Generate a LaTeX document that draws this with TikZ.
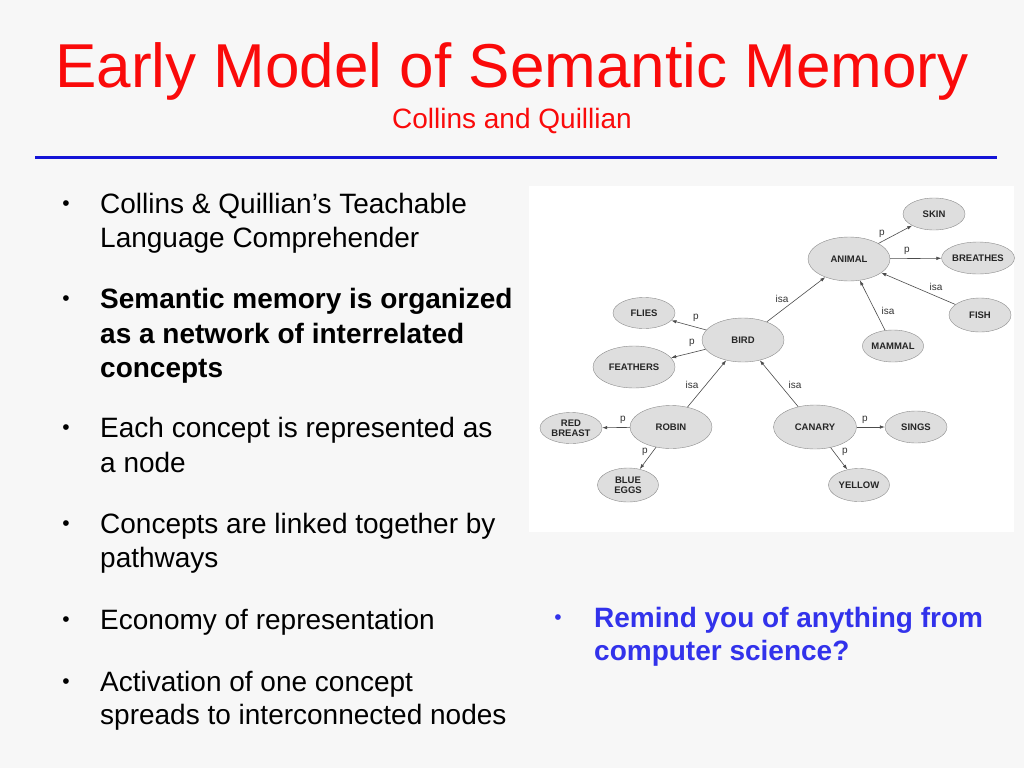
\documentclass[tikz,border=0pt]{standalone}
\usepackage{fontspec}
\setmainfont{Liberation Sans}
\usetikzlibrary{shapes.geometric,arrows.meta}
\definecolor{slidebg}{RGB}{247,247,247}
\definecolor{titlered}{RGB}{250,10,10}
\definecolor{rulblue}{RGB}{20,20,215}
\definecolor{askblue}{RGB}{50,50,235}
\definecolor{ovalfill}{RGB}{222,222,222}
\definecolor{ovaldraw}{RGB}{140,140,140}
\tikzset{
  concept/.style={ellipse,draw=ovaldraw,fill=ovalfill,inner sep=0pt,align=center,
    font=\fontsize{9.5}{10}\selectfont\bfseries,text=black!85},
  bigconcept/.style={concept,minimum width=82pt,minimum height=44pt},
  smallconcept/.style={concept,minimum width=62pt,minimum height=32pt},
  link/.style={-{Latex[length=5pt,width=3.5pt]},draw=black!70,line width=0.6pt},
  rel/.style={font=\fontsize{10}{10}\selectfont,text=black!80,inner sep=0pt},
  bodytext/.style={anchor=base west,inner sep=0pt,font=\fontsize{28}{32}\selectfont},
  dot/.style={anchor=center,inner sep=0pt,font=\fontsize{21}{24}\selectfont}
}
\begin{document}
\begin{tikzpicture}[x=1pt,y=-1pt]
  % slide
  \fill[slidebg] (0,0) rectangle (1024,768);
  \useasboundingbox (0,0) rectangle (1024,768);

  \node[anchor=base,inner sep=0pt,text=titlered,font=\fontsize{62}{70}\selectfont]
    (title) at (512,87) {Early Model of Semantic Memory};
  \node[anchor=base,inner sep=0pt,text=titlered,font=\fontsize{28}{32}\selectfont]
    (subtitle) at (512,128) {Collins and Quillian};
  \draw[rulblue,line width=3pt] (35,157) -- (997,157);

  % left column
  \node[dot] (b1) at (66,206) {•};
  \node[bodytext] (l1) at (100,213) {Collins \& Quillian’s Teachable};
  \node[bodytext] (l2) at (100,247) {Language Comprehender};
  \node[dot] (b2) at (66,301) {•};
  \node[bodytext,font=\fontsize{28}{32}\selectfont\bfseries] (l3) at (100,308) {Semantic memory is organized};
  \node[bodytext,font=\fontsize{28}{32}\selectfont\bfseries] (l4) at (100,343) {as a network of interrelated};
  \node[bodytext,font=\fontsize{28}{32}\selectfont\bfseries] (l5) at (100,377) {concepts};
  \node[dot] (b3) at (66,430) {•};
  \node[bodytext] (l6) at (100,437) {Each concept is represented as};
  \node[bodytext] (l7) at (100,472) {a node};
  \node[dot] (b4) at (66,526) {•};
  \node[bodytext] (l8) at (100,533) {Concepts are linked together by};
  \node[bodytext] (l9) at (100,567) {pathways};
  \node[dot] (b5) at (66,622) {•};
  \node[bodytext] (l10) at (100,629) {Economy of representation};
  \node[dot] (b6) at (66,684) {•};
  \node[bodytext] (l11) at (100,691) {Activation of one concept};
  \node[bodytext] (l12) at (100,724) {spreads to interconnected nodes};

  % right question
  \node[dot,text=askblue] (b7) at (558,620) {•};
  \node[bodytext,text=askblue,font=\fontsize{28}{32}\selectfont\bfseries] (q1) at (594,627) {Remind you of anything from};
  \node[bodytext,text=askblue,font=\fontsize{28}{32}\selectfont\bfseries] (q2) at (594,660) {computer science?};

  % network
  \fill[white] (529,186) rectangle (1014,532);

  \node[bigconcept] (animal) at (849,259) {ANIMAL};
  \node[smallconcept] (skin) at (934,214) {SKIN};
  \node[smallconcept] (breathes) at (978,258) {BREATHES};
  \node[smallconcept,minimum height=34pt] (fish) at (980,315) {FISH};
  \node[smallconcept,minimum width=60pt] (mammal) at (893,346) {MAMMAL};
  \node[bigconcept] (bird) at (743,340) {BIRD};
  \node[smallconcept,minimum height=31pt] (flies) at (644,313) {FLIES};
  \node[bigconcept,minimum height=42pt] (feathers) at (634,367) {FEATHERS};
  \node[bigconcept,minimum height=43pt] (robin) at (671,427) {ROBIN};
  \node[bigconcept,minimum width=83pt] (canary) at (815,427) {CANARY};
  \node[smallconcept,minimum height=31pt] (redbreast) at (571,428) {RED\\BREAST};
  \node[smallconcept,minimum width=61pt,minimum height=34pt] (blueeggs) at (628,485) {BLUE\\EGGS};
  \node[smallconcept] (sings) at (916,427) {SINGS};
  \node[smallconcept,minimum width=61pt,minimum height=33pt] (yellow) at (859,485) {YELLOW};

  \draw[link] (animal) -- (skin);
  \draw[link] (animal) -- (breathes);
  \draw[link] (fish) -- (animal);
  \draw[link] (mammal) -- (animal);
  \draw[link] (bird) -- (animal);
  \draw[link] (bird) -- (flies);
  \draw[link] (bird) -- (feathers);
  \draw[link] (robin) -- (bird);
  \draw[link] (canary) -- (bird);
  \draw[link] (robin) -- (redbreast);
  \draw[link] (robin) -- (blueeggs);
  \draw[link] (canary) -- (sings);
  \draw[link] (canary) -- (yellow);

  \node[rel] (p1) at (882,234) {p};
  \node[rel] (p2) at (907,251) {p};
  \node[rel] (i1) at (936,287) {isa};
  \node[rel] (i2) at (888,311) {isa};
  \node[rel] (i3) at (782,299) {isa};
  \node[rel] (p3) at (696,318) {p};
  \node[rel] (p4) at (692,343) {p};
  \node[rel] (i4) at (692,385) {isa};
  \node[rel] (i5) at (795,385) {isa};
  \node[rel] (p5) at (623,420) {p};
  \node[rel] (p6) at (645,452) {p};
  \node[rel] (p7) at (865,420) {p};
  \node[rel] (p8) at (845,452) {p};
\end{tikzpicture}
\end{document}
